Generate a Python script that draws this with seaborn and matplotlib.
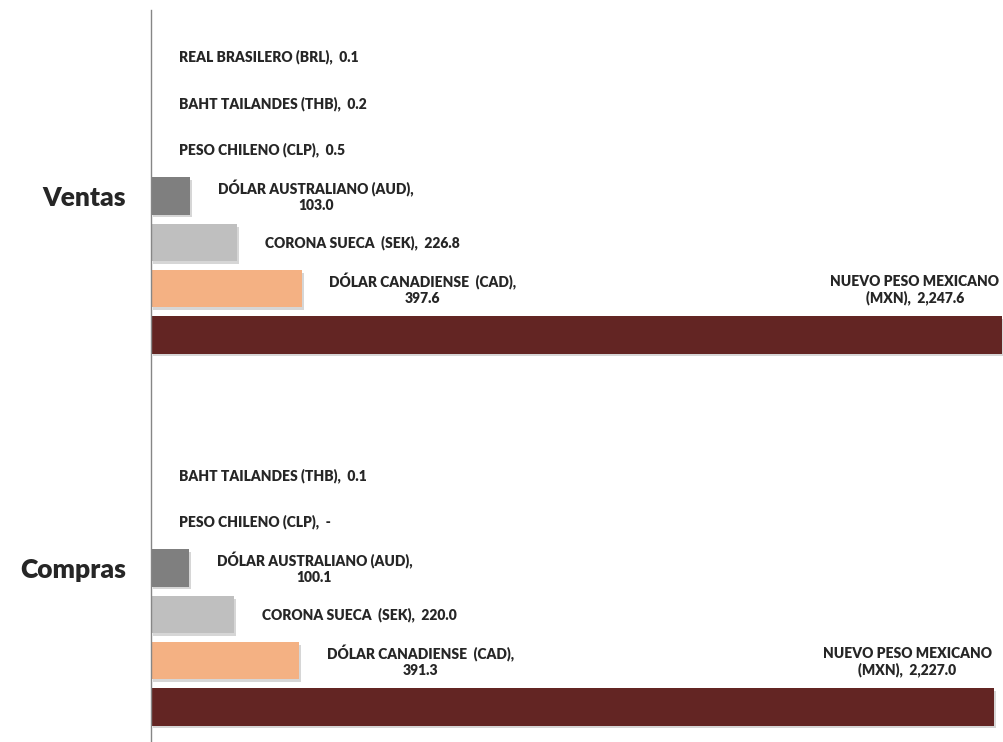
import textwrap
import numpy as np
import pandas as pd
import seaborn as sns
import matplotlib.pyplot as plt
import matplotlib.patheffects as pe

sns.set_style('white')
plt.rcParams['font.family'] = ['Lato', 'DejaVu Sans']

# data
tipos = ['Ventas', 'Compras']
monedas = ['REAL BRASILERO (BRL)', 'BAHT TAILANDES (THB)', 'PESO CHILENO (CLP)',
           'DÓLAR AUSTRALIANO (AUD)', 'CORONA SUECA  (SEK)',
           'DÓLAR CANADIENSE  (CAD)', 'NUEVO PESO MEXICANO (MXN)']
ventas = [0.1, 0.2, 0.5, 103.0, 226.8, 397.6, 2247.6]
compras = [None, 0.1, 0.0, 100.1, 220.0, 391.3, 2227.0]
colores = ['#4472C4', '#A5A5A5', '#FFC000', '#7F7F7F', '#BFBFBF', '#F4B183', '#632523']

rows = []
for tipo, vals in zip(tipos, [ventas, compras]):
    for m, v in zip(monedas, vals):
        if v is not None:
            rows.append({'tipo': tipo, 'moneda': m, 'valor': v})
df = pd.DataFrame(rows)

fig = plt.figure(figsize=(10.04, 7.42), dpi=100)
ax = fig.add_axes([151 / 1004, -12 / 742, 852 / 1004, 744 / 742])

width = 0.872
sns.barplot(data=df, y='tipo', x='valor', hue='moneda', order=tipos,
            hue_order=monedas, palette=colores, saturation=1, orient='h',
            width=width, gap=0.2, errorbar=None, legend=False, ax=ax)

shadow = [pe.SimplePatchShadow(offset=(1.5, -2), shadow_rgbFace='#7a7a7a', alpha=0.3),
          pe.Normal()]
for p in ax.patches:
    p.set_path_effects(shadow)
    p.set_linewidth(0)

ax.set_xlim(0, 2250)
ax.set_ylim(1.5, -0.5)

n = len(monedas)
slot = width / n
for ci, (tipo, vals) in enumerate(zip(tipos, [ventas, compras])):
    vmax = max(v for v in vals if v is not None)
    for hi, (m, v) in enumerate(zip(monedas, vals)):
        if v is None:
            continue
        yc = ci + (hi - (n - 1) / 2) * slot
        vtxt = '-' if v == 0 else f'{v:,.1f}'
        label = f'{m},  {vtxt}'
        if len(label) > 28:
            label = textwrap.fill(label, width=24)
        if v == vmax:
            ax.annotate(label, xy=(v, yc - slot * 0.4), xytext=(-2, 8),
                        textcoords='offset points', ha='right', va='bottom',
                        multialignment='center', fontsize=10, fontweight='heavy')
        else:
            ax.annotate(label, xy=(v, yc), xytext=(20, 0),
                        textcoords='offset points', ha='left', va='center',
                        multialignment='center', fontsize=10, fontweight='heavy')

ax.set_xlabel('')
ax.set_ylabel('')
ax.set_xticks([])
ax.tick_params(axis='y', length=0, pad=18)
for t in ax.get_yticklabels():
    t.set_fontsize(19)
    t.set_fontweight('heavy')
for s in ['top', 'right', 'bottom']:
    ax.spines[s].set_visible(False)
ax.spines['left'].set_color('#868686')
ax.spines['left'].set_linewidth(1)

fig.savefig('out.png', dpi=100)
